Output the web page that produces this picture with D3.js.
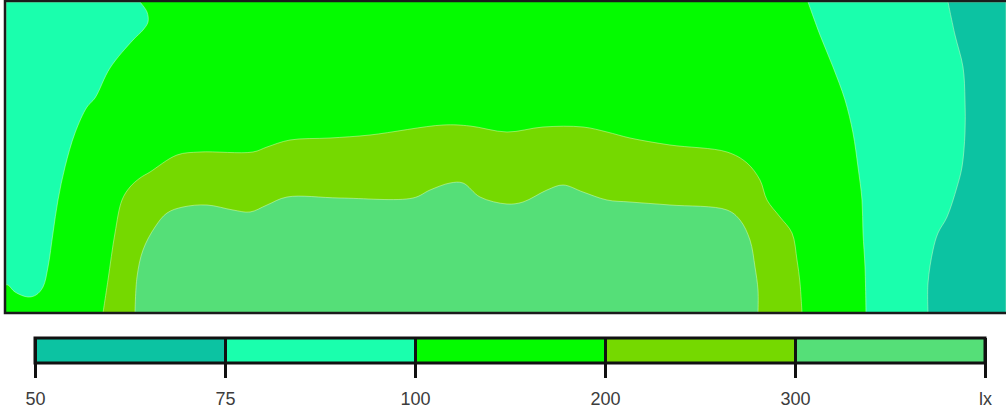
<!DOCTYPE html>
<html>
<head>
<meta charset="utf-8">
<script src="https://cdn.jsdelivr.net/npm/d3@7"></script>
<style>
  body { margin: 0; background: #fff; }
  svg { display: block; }
</style>
</head>
<body>
<div id="container"></div>
<script>
let w = 1006;
let h = 419;

// plan coordinates (room units, 0..1000 across, 0..311 deep)
let roomW = 1000;
let roomD = 311;

// isolux bands, low to high
let bandLabels = ["50", "75", "100", "200", "300", "lx"];
let bandColors = ["#0cc3a2", "#1affad", "#04fb00", "#75d900", "#55df78"];

// 75-100 lx zone along the left wall (curve, then wall)
let leftCyan = [[134,0],[141,10],[142,20],[137,28],[127,38],[104,66],[89,96],[81,105],[69,131],[59,165],[52,198],[47,231],[42,265],[37,285],[30,293],[22,295],[9,290],[2,283],[0,283]];
// 75-100 lx zone on the right
let rightCyan = [[802,0],[814,33],[827,65],[839,98],[847,131],[852,165],[856,198],[857,231],[859,265],[860,311]];
// 50-75 lx zone at the right wall
let rightTeal = [[942,0],[949,33],[957,65],[959,98],[959,131],[956,165],[951,185],[941,215],[932,231],[927,248],[922,281],[922,311]];
// 200-300 lx contour
let band200 = [[97,311],[102,278],[109,231],[116,198],[124,185],[134,176],[144,170],[171,153],[194,150],[247,150],[261,145],[284,138],[324,136],[364,133],[437,123],[464,124],[501,130],[537,125],[577,125],[601,130],[624,136],[664,143],[721,150],[741,161],[754,178],[761,198],[774,215],[786,231],[791,258],[794,281],[796,311]];
// 300+ lx contour
let band300 = [[129,311],[131,275],[137,248],[149,225],[161,211],[177,205],[201,203],[227,208],[244,210],[261,203],[281,195],[334,196],[407,196],[424,188],[444,181],[457,181],[474,195],[501,202],[517,200],[541,188],[557,183],[577,190],[601,198],[624,200],[664,203],[721,208],[734,218],[744,238],[749,265],[752,288],[752,311]];

let viz = d3.select("#container")
  .append("svg")
    .attr("width", w)
    .attr("height", h)
;

let xScale = d3.scaleLinear().domain([0, roomW]).range([6, 1006]);
let yScale = d3.scaleLinear().domain([0, roomD]).range([2, 313]);

viz.append("clipPath").attr("id", "mapClip")
  .append("rect")
    .attr("x", xScale(0)).attr("y", yScale(0))
    .attr("width", xScale(roomW) - xScale(0))
    .attr("height", yScale(roomD) - yScale(0));

let mapGroup = viz.append("g").attr("clip-path", "url(#mapClip)");

let curve = d3.line()
  .x(function(d){ return xScale(d[0]); })
  .y(function(d){ return yScale(d[1]); })
  .curve(d3.curveCatmullRom.alpha(0.5));

function corner(x, y){
  return "L" + xScale(x) + "," + yScale(y);
}

// base zone 100-200
mapGroup.append("rect")
  .attr("x", xScale(0)).attr("y", yScale(0))
  .attr("width", xScale(roomW) - xScale(0))
  .attr("height", yScale(roomD) - yScale(0))
  .attr("fill", bandColors[2]);

let zones = [
  { d: curve(leftCyan) + corner(0, 0) + "Z", c: bandColors[1] },
  { d: curve(rightCyan) + corner(roomW, roomD) + corner(roomW, 0) + "Z", c: bandColors[1] },
  { d: curve(rightTeal) + corner(roomW, roomD) + corner(roomW, 0) + "Z", c: bandColors[0] },
  { d: curve(band200) + "Z", c: bandColors[3] },
  { d: curve(band300) + "Z", c: bandColors[4] }
];

mapGroup.selectAll(".zone").data(zones).enter()
  .append("path")
    .attr("class", "zone")
    .attr("d", function(d){ return d.d; })
    .attr("fill", function(d){ return d.c; })
    .attr("stroke", "rgba(230,255,200,0.45)")
    .attr("stroke-width", 1)
;

// frame (right edge runs off the picture)
viz.append("rect")
  .attr("x", 5).attr("y", 1)
  .attr("width", 1010).attr("height", 312)
  .attr("fill", "none")
  .attr("stroke", "#1b1b1b")
  .attr("stroke-width", 2.5);

// legend
let legScale = d3.scalePoint().domain(bandLabels).range([35, 985]);
let barTop = 338;
let barH = 25;

let legGroup = viz.append("g");
legGroup.selectAll(".swatch").data(bandColors).enter()
  .append("rect")
    .attr("class", "swatch")
    .attr("x", function(d,i){ return legScale(bandLabels[i]); })
    .attr("y", barTop)
    .attr("width", function(d,i){ return legScale(bandLabels[i+1]) - legScale(bandLabels[i]); })
    .attr("height", barH)
    .attr("fill", function(d){ return d; })
;
legGroup.append("rect")
  .attr("x", legScale("50")).attr("y", barTop)
  .attr("width", legScale("lx") - legScale("50"))
  .attr("height", barH)
  .attr("fill", "none")
  .attr("stroke", "#111")
  .attr("stroke-width", 3);

let legAxis = d3.axisBottom(legScale).tickSize(40).tickPadding(14);
let legAxisGroup = viz.append("g")
  .attr("transform", "translate(0," + barTop + ")")
  .call(legAxis);
legAxisGroup.select(".domain").remove();
legAxisGroup.selectAll("line").attr("stroke", "#111").attr("stroke-width", 3);
legAxisGroup.selectAll("text")
  .attr("font-family", "Liberation Sans, Arial, sans-serif")
  .attr("font-size", 18)
  .attr("fill", "#3c3c3c");
</script>
</body>
</html>
